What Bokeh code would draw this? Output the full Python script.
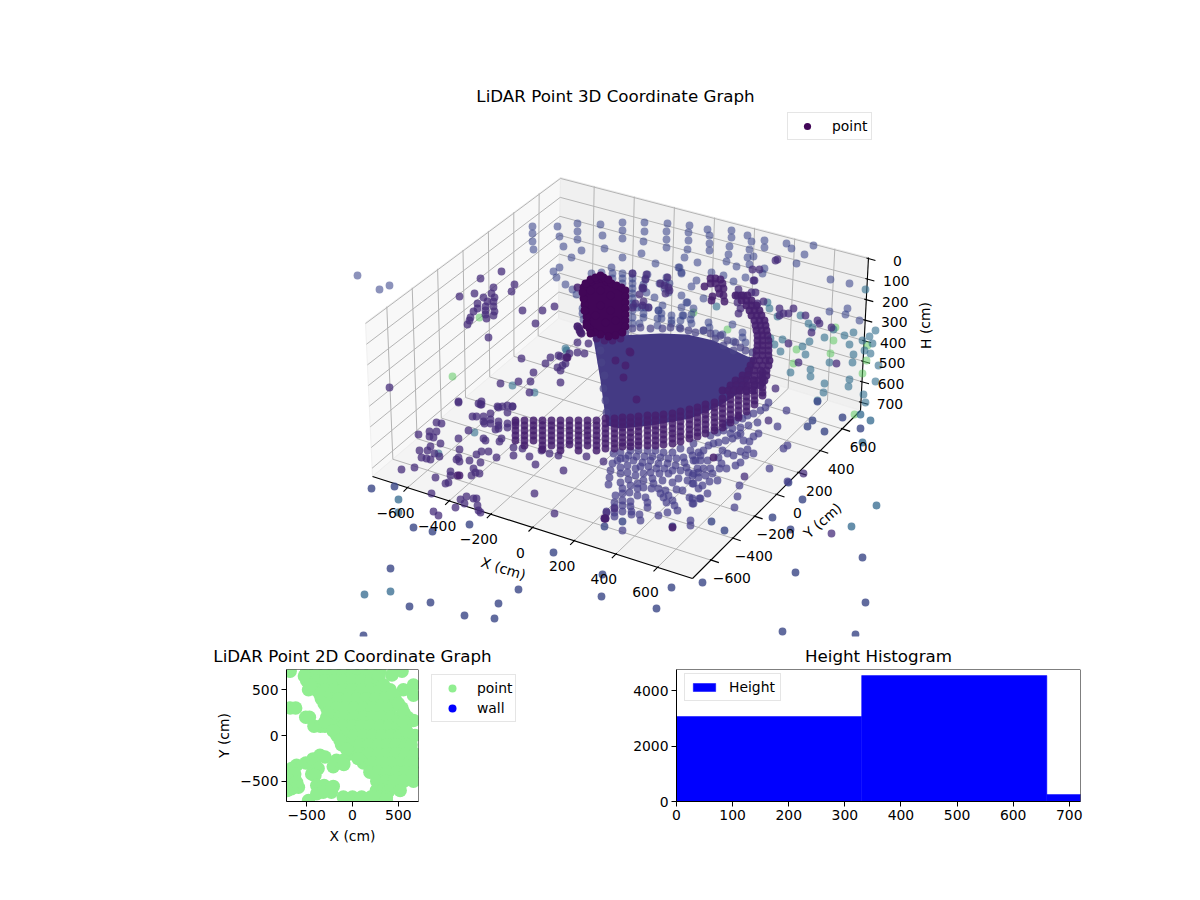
from bokeh.core.properties import value
from bokeh.embed import file_html
from bokeh.layouts import column, row
from bokeh.models import BoxAnnotation, FixedTicker, Legend, LegendItem, Range1d
from bokeh.plotting import figure
from bokeh.resources import INLINE

FONT = value("DejaVu Sans")

# 3d box: screen corners of the projected box
X_LIM = (-768, 768)
Y_LIM = (-768, 768)
H_LIM = (-5, 740)
FLOOR = {"00": (372, 476), "10": (692, 578), "11": (860, 410), "01": (558, 318)}
CEIL = {"00": (365, 322), "10": (699, 425), "11": (868, 257), "01": (560, 177)}

x_ticks = [-600, -400, -200, 0, 200, 400, 600]
y_ticks = [-600, -400, -200, 0, 200, 400, 600]
h_ticks = [0, 100, 200, 300, 400, 500, 600, 700]

# scatter as seen on the page, one list per shade
far_pts = [(357,275),(379,289),(389,285),(532,226),(532,233),(532,241),(533,249),(557,226),(559,236),(563,246),(571,257),(553,271),(559,267),(556,277),(565,284),(572,289),(576,294),
    (577,223),(577,231),(577,239),(581,250),(600,224),(602,235),(604,248),(622,222),(622,230),(622,238),(622,257),(644,222),(644,231),(643,241),(641,253),(655,263),
    (667,223),(666,231),(666,239),(666,247),(684,257),(687,249),(688,240),(688,232),(689,225),(697,262),(679,267),(681,273),(707,229),(709,235),(709,243),(709,250),(711,272),(726,261),(736,266),
    (731,230),(731,237),(729,246),(728,254),(747,235),(751,241),(749,249),(753,256),(747,257),(749,264),(764,240),(764,247),(786,243),(791,248),(813,245),(804,254),(796,263),(764,268),(762,273),
    (745,277),(733,281),(696,280),(691,286),(723,275),(681,295),(687,302),(681,307),(693,308),(691,314),(703,298),(830,279),(849,283),(829,311),(847,308),(845,314),(859,320),
    (611,267),(591,273),(601,272),(612,273),(612,278),(622,273),(622,278),(622,283),(632,273),(632,278),(632,283),(632,288),(632,293),(632,298),(632,303),(632,310),(632,317),(632,323),
    (647,274),(645,278),(643,284),(642,288),(646,292),(654,297),(659,283),(666,277),(665,282),(669,283),(664,288),(668,292),(678,267),(681,272),(686,302),(662,305),(658,310),(657,318),
    (671,315),(671,320),(683,315),(680,320),(639,323),(633,305),(637,307),(641,307),(645,307),(648,307),(658,310),(643,313),(643,317),(661,313),(661,318),(671,323),(657,325),(682,315),(679,327),
    (690,319),(691,323),(708,322),(709,327),(732,324),(742,332),(742,337),(733,341),(745,342),(722,334),(715,333),(703,330),(582,308),(582,313),(583,319)]
teal_pts = [(716,306),(767,302),(769,308),(777,316),(800,315),(808,323),(812,327),(809,341),(802,346),(805,354),(824,337),(833,329),(844,335),(853,332),(849,344),(862,340),(869,336),(872,343),
    (864,350),(870,353),(853,354),(852,362),(829,362),(878,365),(875,381),(849,379),(848,386),(824,383),(823,392),(810,369),(810,376),(790,372),(817,400),(863,394),(865,402),(774,344),(782,339),(780,351),(770,338),
    (512,385),(534,392),(474,432),(438,453),(566,350),(565,348),(865,289),(875,330)]
outer_teal_pts = [(398,499),(398,512),(390,591),(364,594),(862,442),(851,526),(876,505),(860,414),(870,420)]
green_pts = [(693,312),(727,329),(835,327),(833,340),(796,349),(830,353),(793,363),(866,360),(862,373),(867,345),(479,317),(452,376),(854,414)]
outer_pts = [(371,488),(394,486),(413,527),(432,531),(469,524),(553,552),(390,568),(409,606),(430,602),(464,615),(498,603),(518,589),(494,618),(363,635),(602,574),(601,596),
    (817,401),(842,417),(860,428),(824,431),(812,420),(807,426),(788,482),(802,499),(772,517),(790,529),(724,530),
    (862,557),(795,572),(865,602),(702,582),(671,587),(656,608),(782,631),(855,634),(711,521),(672,526),(604,526),(622,521)]
mid_pts = [(431,493),(433,511),(438,515),(455,507),(460,499),(466,496),(473,498),(476,498),(464,503),(477,505),(480,512),(478,510),(534,493),(554,513),(604,518),(605,518),(606,512),(614,508),
    (401,469),(414,467),(435,477),(445,483),(448,482),(450,471),(450,475),(471,475),(473,468),(475,472),(479,473),(469,460),(459,461),(456,459),(458,457),(459,449),(458,438),(468,430),(483,438),(485,440),
    (476,454),(481,451),(488,451),(480,462),(496,457),(418,434),(429,431),(436,431),(436,422),(441,423),(429,436),(433,437),(440,443),(430,446),(427,450),(419,450),(421,457),(426,458),(430,459),(434,453),(439,456),
    (458,401),(478,403),(481,404),(472,416),(476,416),(483,416),(490,413),(497,406),(502,406),(507,412),(512,406),(483,421),(484,423),(490,419),(490,423),(498,421),(498,425),(498,428),(507,423),(507,427),(495,429),(515,422),
    (501,438),(499,441),(513,447),(522,448),(513,455),(529,456),(535,464),(563,470),(586,456),(558,455),(549,453),(541,450),(603,461),
    (501,271),(480,278),(493,287),(514,284),(511,291),(459,296),(474,293),(483,297),(491,293),(494,297),(487,301),(493,301),(477,303),(485,306),(493,306),(477,308),(473,311),(485,310),(494,311),(470,317),(469,320),(467,324),(485,314),(493,315),(486,318),(522,310),(542,310),(554,306),(535,323),(488,337),(389,387),
    (521,358),(545,363),(550,357),(558,355),(560,356),(569,353),(577,352),(584,353),(562,365),(565,363),(557,367),(560,370),(533,372),(560,382),(530,381),(518,381),(500,383),(529,392),(458,402),(481,401),(480,404),(498,407),(507,405),(512,406),(577,342),(588,343),(577,326),
    (775,260),(777,259),(752,269),(759,269),(754,280),(738,289),(743,295),(737,295),(737,302),(740,308),(738,313),(751,292),(755,292),(753,280),(763,301),(757,303),(779,308),(793,308),(783,313),(788,313),(779,315),(805,315),(817,320),(819,323),(831,327),(811,332),(788,343),(798,362),(836,363),(775,388),(768,420),(803,473),(744,476),(831,533),
    (635,303),(642,305),(632,307),(648,307),(632,273),(646,274),(645,279),(642,287),(643,288),(639,294),(643,301),(660,283),(667,277),(664,285),(668,287),(669,290),(665,293)]
deep_pts = [(567,357),(579,330),(581,333),(459,475),(457,475),(577,287),(577,326),(579,328),(580,332),(566,357),(672,527),(604,518),(605,518),(713,457),
    (710,278),(715,278),(720,279),(710,283),(715,283),(722,283),(718,288),(723,288),(719,293),(723,295),(724,301),(704,286),(712,296),(711,300),
    (630,352),(625,365),(623,377),(636,399),(629,351),(615,360),(596,338),(604,340),(612,340),(620,338)]
dark_pts = [(583,287),(587,283),(591,281),(596,279),(601,278),(606,281),(611,283),(616,285),(621,287),(625,290),(625,296),(625,302),(625,308),(625,314),(625,320),(625,326),(622,332),(615,335),(608,336),(600,334),(594,332),(589,328),(586,322),(586,316),(585,310),(584,304),(583,298),(582,292),(590,290),(600,290),(610,295),(600,305),(610,310),(595,315),(605,322),(615,320),
    (585,283),(590,279),(595,277),(600,275),(603,277),(608,279),(584,310),(586,325),(590,333)]

# dense body of the cloud, too many overlapping points to tell apart
tower_u = [582,588,600,610,623,626,622,600,590,586,581]
tower_v = [285,280,277,282,287,310,335,335,330,318,298]
fan_u = [592,617,640,660,687,713,730,747,755,752,745,720,690,650,620,606,600]
fan_v = [333,335,334,333,334,340,348,356,358,372,388,405,418,425,428,425,380]
fan_edge_pts = [(625,332),(632,328),(640,327),(650,328),(662,328),(670,327),(680,328),(688,330),(695,332),(703,330),(710,333),(715,338),(720,335),(723,345),(727,340),(735,342),(740,347),(745,350),(752,352),(733,350),(604,340),(600,350),(601,362),(604,375),(603,388),(605,400),(606,412)]

band_cols = [(515,[420,425,430,435,440]),(524,[420,425,430,435,440,445]),(533,[420,425,430,435,440]),(542,[420,425,430,435,440,445,449]),(551,[420,425,430,435,440,445]),(560,[420,425,430,435,440,445,450]),
    (569,[420,425,430,435,440,444]),(578,[420,425,430,435,440,445,450]),(587,[420,425,430,435,440,445]),(596,[420,425,430,435,440,445,450]),(605,[418,423,428,433,438,443,448]),(614,[418,423,428,433,438,443,448]),
    (622,[417,422,427,432,437,442,446]),(630,[417,422,427,432,437,442,446]),(638,[416,421,426,431,436,441,445]),(647,[415,420,425,430,435,440,445]),(655,[415,420,425,430,435,440,445]),(663,[414,419,424,429,434,439,444]),
    (672,[413,418,423,428,433,438,443]),(680,[411,416,421,426,431,436,441]),(689,[409,414,419,424,429,434,438]),(697,[407,412,417,422,427,432,436]),(705,[404,409,414,419,424,429,433]),(714,[402,407,412,417,422,427,430]),
    (722,[398,403,408,413,418,423,427]),(730,[394,399,404,409,414,419,422]),(738,[390,395,400,405,410,415,417]),(746,[386,391,396,401,406,411]),(754,[380,385,390,395,400,404]),(762,[372,377,382,387,392,395])]
hook_rows = [(295,[735,741,747]),(300,[741,746,751]),(305,[746,751,756]),(310,[749,754,759]),(315,[751,756,761]),(320,[754,759,764]),(325,[755,760,765]),(330,[756,761,766]),(335,[757,762,767]),(340,[757,762,768]),
    (345,[757,762,768]),(350,[756,762,768]),(355,[756,762,768]),(360,[753,759,765,769]),(365,[750,756,762,768]),(370,[748,754,760,766]),(375,[742,748,754,760,766]),(380,[735,741,747,753,759,764]),(385,[730,736,742,748,754,760]),(390,[722,728,734,740,746,752])]

# ring pattern under the fan, point by point
cloud_pts = [(613,453),(620,458),(612,463),(610,470),(609,477),(608,484),(615,495),(620,482),(622,488),(622,493),(622,500),(622,505),(622,511),(614,502),(614,507),(614,512),(614,516),(606,511),(622,530),(630,501),(630,506),(631,511),(631,514),(639,514),(640,520),(658,515),(667,512),(690,520),(690,525),(677,510),(674,505),(672,500),(668,495),(665,490),(658,488),(660,493),(663,497),(666,502),(647,507),(647,502),(645,497),(637,483),(637,488),(637,495),(629,492),(630,485),(628,479),(620,473),(620,467),(617,460),(627,465),(627,472),(635,468),(635,475),(643,473),(643,480),(643,487),(650,472),(652,478),(651,488),(653,483),(659,473),(662,480),(668,473),(672,482),(678,478),(682,490),(676,489),(689,497),(692,503),(699,498),(687,480),(692,483),(698,488),(686,467),(693,473),(698,472),(675,465),(667,463),(658,463),(650,460),(642,462),(633,460),(625,458),(683,457),(693,460),(690,450),(680,448),(672,452),(663,452),(655,450),(647,450),(638,450),(630,450),
    (620,452),(628,455),(636,456),(644,456),(652,456),(660,457),(668,458),(676,458),(684,462),(692,455),(700,455),(640,466),(648,466),(656,468),(664,468),(672,470),(680,470),(688,472),
    (728,422),(735,420),(742,418),(747,415),(753,413),(760,410),(765,407),(768,402),(757,422),(748,425),(740,427),(732,428),(723,430),(717,432),(710,435),(725,425),(758,433),(753,436),(749,441),(743,440),(737,435),(732,438),(725,440),(718,442),(730,433),(740,433),(713,443),(708,445),(703,450),(698,452),(693,443),(740,451),(747,449),(753,453),(745,455),(733,455),(740,462),(735,465),(726,468),(719,468),(722,450),(727,453),(718,457),(707,460),(700,460),(695,460),(721,463),(710,468),(703,468),(697,468),(712,473),(705,475),(698,477),(692,475),(717,480),(709,481),(702,485),(693,483),(707,493),(700,498),(692,498),(693,503),(739,485),(737,496),(734,507),(769,468),(787,481),(786,410),(777,426),(783,448),(787,445)]

# 2d view, X and Y in cm
point_rows = [(700,[-680,-500,-400,-300,-200,-100,0,100,200,300,540]),(660,[430]),(600,[-500,-400,-300,-200,-100,0,100,200,280]),(500,[-480,-400,-300,-200,-100,0,100,200,300,410,555]),
    (550,[665]),(440,[665]),(400,[-340,-250,-150,-50,50,150,250,350,465]),(300,[-680,-620,-280,-180,-80,20,120,220,320,420,540]),(200,[-510,-470,-280,-180,-80,20,120,220,320,420,520,600]),
    (165,[665]),(100,[-420,-350,-300,-200,-100,0,100,200,300,400,500,555]),(0,[-170,-80,20,120,220,320,420,520,600,680]),(-100,[-120,-20,80,180,280,380,480,580,640]),
    (-200,[-20,80,180,280,380,480,580,680]),(-300,[120,220,320,420,520,620,680]),(-400,[190,280,380,480,580,680]),(-500,[265,360,460,560,665]),(-600,[260,330,400,520]),
    (-670,[-100,0,100,200,300,370]),(-710,[370,-480]),
    (650,[-525,290]),(550,[-457,340]),(450,[-355,440]),(350,[-310,500]),(250,[-265,560]),(150,[-300,560]),(50,[-210,590]),(-50,[-137]),(-150,[-63]),(-250,[60])]
point_extra_x = [-610,-665,-712,-630,-685,-610,-590,-665,-712,-510,-430,-355,-300,-410,-375,-445,-410,-210,-175,-100,-95,-390,-310,-210,-390,-320,-230]
point_extra_y = [-325,-360,-420,-420,-490,-510,-565,-580,-600,-300,-255,-215,-235,-310,-360,-420,-435,-340,-270,-270,-315,-545,-545,-555,-635,-620,-620]
# no wall point falls inside the limits, this one only gives the legend its entry
wall_x = [-9999]
wall_y = [-9999]

# histogram
hist_edges = [0, 330, 660, 990]
hist_counts = [3070, 4550, 250]


def project(x, y, h):
    sx = (x - X_LIM[0]) / (X_LIM[1] - X_LIM[0])
    sy = (y - Y_LIM[0]) / (Y_LIM[1] - Y_LIM[0])
    sz = (h - H_LIM[0]) / (H_LIM[1] - H_LIM[0])
    out = []
    for i in range(2):
        bot = (FLOOR["00"][i] * (1 - sx) + FLOOR["10"][i] * sx) * (1 - sy) + (FLOOR["01"][i] * (1 - sx) + FLOOR["11"][i] * sx) * sy
        top = (CEIL["00"][i] * (1 - sx) + CEIL["10"][i] * sx) * (1 - sy) + (CEIL["01"][i] * (1 - sx) + CEIL["11"][i] * sx) * sy
        out.append(top * (1 - sz) + bot * sz)
    return out


def seg(p, a, b, color, width):
    p.line([a[0], b[0]], [a[1], b[1]], line_color=color, line_width=width)


def scatter(p, pts, color, alpha):
    return p.scatter([q[0] for q in pts], [q[1] for q in pts], size=7.8, marker="circle", fill_color=color, fill_alpha=alpha, line_color=None)


def label(p, x, y, text, size="13.9px", angle=0, align="center"):
    p.text([x], [y], text=[text], text_font=FONT, text_font_size=size, text_color="black", text_align=align, text_baseline="middle", angle=angle)


def minus(v):
    return str(v).replace("-", "\u2212")


p3 = figure(width=1184, height=666, x_range=Range1d(0, 1184), y_range=Range1d(666, 0), x_axis_type=None, y_axis_type=None,
            toolbar_location=None, output_backend="svg", min_border=0, outline_line_color=None)
p3.grid.visible = False

xa, xb = X_LIM
ya, yb = Y_LIM
ht, hb = H_LIM

# panes
p3.patch(*zip(FLOOR["00"], FLOOR["01"], CEIL["01"], CEIL["00"]), fill_color="#f8f8f8", line_color="#f0f0f0")
p3.patch(*zip(FLOOR["01"], FLOOR["11"], CEIL["11"], CEIL["01"]), fill_color="#f0f0f0", line_color="#ebebeb")
p3.patch(*zip(FLOOR["00"], FLOOR["10"], FLOOR["11"], FLOOR["01"]), fill_color="#f4f4f4", line_color="#eeeeee")

# grid
GRID = "#b4b4b4"
for t in x_ticks:
    seg(p3, project(t, ya, hb), project(t, yb, hb), GRID, 1)
    seg(p3, project(t, yb, hb), project(t, yb, ht), GRID, 1)
for t in y_ticks:
    seg(p3, project(xa, t, hb), project(xb, t, hb), GRID, 1)
    seg(p3, project(xa, t, hb), project(xa, t, ht), GRID, 1)
for t in h_ticks:
    seg(p3, project(xa, ya, t), project(xa, yb, t), GRID, 1)
    seg(p3, project(xa, yb, t), project(xb, yb, t), GRID, 1)

# axis lines and tick marks
seg(p3, FLOOR["00"], FLOOR["10"], "black", 1.1)
seg(p3, FLOOR["10"], FLOOR["11"], "black", 1.1)
seg(p3, FLOOR["11"], CEIL["11"], "black", 1.1)
for t in x_ticks:
    a = project(t, ya, hb)
    seg(p3, (a[0] - 4, a[1] + 4), (a[0] + 1, a[1] - 1), "black", 1.1)
for t in y_ticks:
    a = project(xb, t, hb)
    seg(p3, (a[0] - 1, a[1] - 0.5), (a[0] + 8, a[1] + 2.5), "black", 1.1)
for t in h_ticks:
    a = project(xb, yb, t)
    seg(p3, (a[0] - 2, a[1] - 0.5), (a[0] + 7, a[1] + 2), "black", 1.1)

# scatter, far shades first
scatter(p3, green_pts, "#5ec962", 0.55)
scatter(p3, far_pts, "#39438a", 0.58)
scatter(p3, teal_pts, "#33708e", 0.62)
scatter(p3, outer_teal_pts, "#31688e", 0.75)
scatter(p3, outer_pts, "#3e4a89", 0.82)
scatter(p3, cloud_pts, "#46408a", 0.72)
scatter(p3, mid_pts, "#472d7b", 0.75)
p3.patch(fan_u, fan_v, fill_color="#443a84", line_color=None)
scatter(p3, fan_edge_pts, "#4a4488", 0.72)
scatter(p3, deep_pts, "#46206f", 0.85)
for u, vs in band_cols:
    scatter(p3, [(u, v) for v in vs], "#46206f", 0.85)
for v, us in hook_rows:
    scatter(p3, [(u, v) for u in us], "#46206f", 0.9)
p3.patch(tower_u, tower_v, fill_color="#420758", line_color=None)
dark = scatter(p3, dark_pts, "#420758", 1)

# the 3d axes end above the lower panels
p3.quad(left=0, right=1184, top=636, bottom=666, fill_color="white", line_color=None)

# 3d labels
for t in x_ticks:
    a = project(t, ya, hb)
    label(p3, a[0] - 12, a[1] + 25, minus(t))
for t in y_ticks:
    a = project(xb, t, hb)
    label(p3, a[0] + 21, a[1] + 18, minus(t))
for t in h_ticks:
    a = project(xb, yb, t)
    label(p3, a[0] + 29, a[1] + 2, str(t))
label(p3, 503, 568, "X (cm)", angle=-0.30)
label(p3, 822, 520, "Y (cm)", angle=0.72)
label(p3, 925, 325, "H (cm)", angle=1.5708)
label(p3, 615, 95, "LiDAR Point 3D Coordinate Graph", size="16.7px")
label(p3, 352, 655, "LiDAR Point 2D Coordinate Graph", size="16.7px")
label(p3, 878, 655, "Height Histogram", size="16.7px")

leg3 = Legend(items=[LegendItem(label="point", renderers=[dark])], location=(787, 526), padding=4, margin=0, glyph_width=30, glyph_height=18,
              label_standoff=10, label_text_font="DejaVu Sans", label_text_font_size="13.9px", label_text_color="black", border_line_color="#cccccc", background_fill_alpha=0.8, spacing=0)
p3.add_layout(leg3, "center")


def style(p):
    p.grid.visible = False
    p.outline_line_color = None
    p.add_layout(BoxAnnotation(fill_alpha=0, line_color="black", line_alpha=1, line_width=1, level="overlay"))
    for ax in [p.xaxis[0], p.yaxis[0]]:
        ax.major_label_text_font = "DejaVu Sans"
        ax.major_label_text_font_size = "13.9px"
        ax.major_label_text_color = "black"
        ax.major_tick_in = 0
        ax.major_tick_out = 5
        ax.minor_tick_line_color = None
        ax.axis_label_text_font = "DejaVu Sans"
        ax.axis_label_text_font_size = "13.9px"
        ax.axis_label_text_font_style = "normal"
        ax.axis_label_text_color = "black"
        ax.major_label_standoff = 3


p2 = figure(width=426, height=191, x_range=Range1d(-720, 720), y_range=Range1d(-720, 720),
            toolbar_location=None, output_backend="svg", min_border_left=286, min_border_right=8, min_border_top=3, min_border_bottom=56)
style(p2)
p2.xaxis.axis_label = "X (cm)"
p2.yaxis.axis_label = "Y (cm)"
p2.xaxis.ticker = FixedTicker(ticks=[-500, 0, 500])
p2.yaxis.ticker = FixedTicker(ticks=[-500, 0, 500])
p2.xaxis.major_label_overrides = {-500: "\u2212500"}
p2.yaxis.major_label_overrides = {-500: "\u2212500"}
p2.yaxis.major_label_orientation = "horizontal"

point_x = [u for v, us in point_rows for u in us] + point_extra_x
point_y = [v for v, us in point_rows for u in us] + point_extra_y
p2.scatter(point_x, point_y, size=13.5, marker="circle", fill_color="#90ee90", line_color=None)

# legend of the 2d view stands outside its axes
pl = figure(width=199, height=191, x_range=Range1d(0, 1), y_range=Range1d(0, 1), x_axis_type=None, y_axis_type=None,
            toolbar_location=None, output_backend="svg", min_border=0, outline_line_color=None)
pl.grid.visible = False
r_point = pl.scatter(point_x, point_y, marker="circle", fill_color="#90ee90", line_color=None)
r_wall = pl.scatter(wall_x, wall_y, marker="circle", fill_color="blue", line_color=None)
leg2 = Legend(items=[LegendItem(label="point", renderers=[r_point]), LegendItem(label="wall", renderers=[r_wall])], location=(5, 79), padding=3, margin=0,
              glyph_width=34, glyph_height=20, label_standoff=8, spacing=0, label_text_font="DejaVu Sans", label_text_font_size="13.9px", label_text_color="black", border_line_color="#cccccc")
pl.add_layout(leg2, "center")

ph = figure(width=475, height=191, x_range=Range1d(0, 720), y_range=Range1d(0, 4770),
            toolbar_location=None, output_backend="svg", min_border_left=51, min_border_right=20, min_border_top=3, min_border_bottom=56)
style(ph)
ph.xaxis.ticker = FixedTicker(ticks=[0, 100, 200, 300, 400, 500, 600, 700])
ph.yaxis.ticker = FixedTicker(ticks=[0, 2000, 4000])
ph.yaxis.major_label_orientation = "horizontal"
r_hist = ph.quad(left=hist_edges[:-1], right=hist_edges[1:], bottom=0, top=hist_counts, fill_color="blue", line_color="blue", line_width=0.5)
legh = Legend(items=[LegendItem(label="Height", renderers=[r_hist])], location=(8, 100), padding=5, margin=0, glyph_width=28, glyph_height=10, label_standoff=11,
              label_text_font="DejaVu Sans", label_text_font_size="13.9px", label_text_color="black", border_line_color="#cccccc")
ph.add_layout(legh, "center")

page = column(p3, row(p2, pl, ph))
open("out.html", "w").write(file_html(page, INLINE))
